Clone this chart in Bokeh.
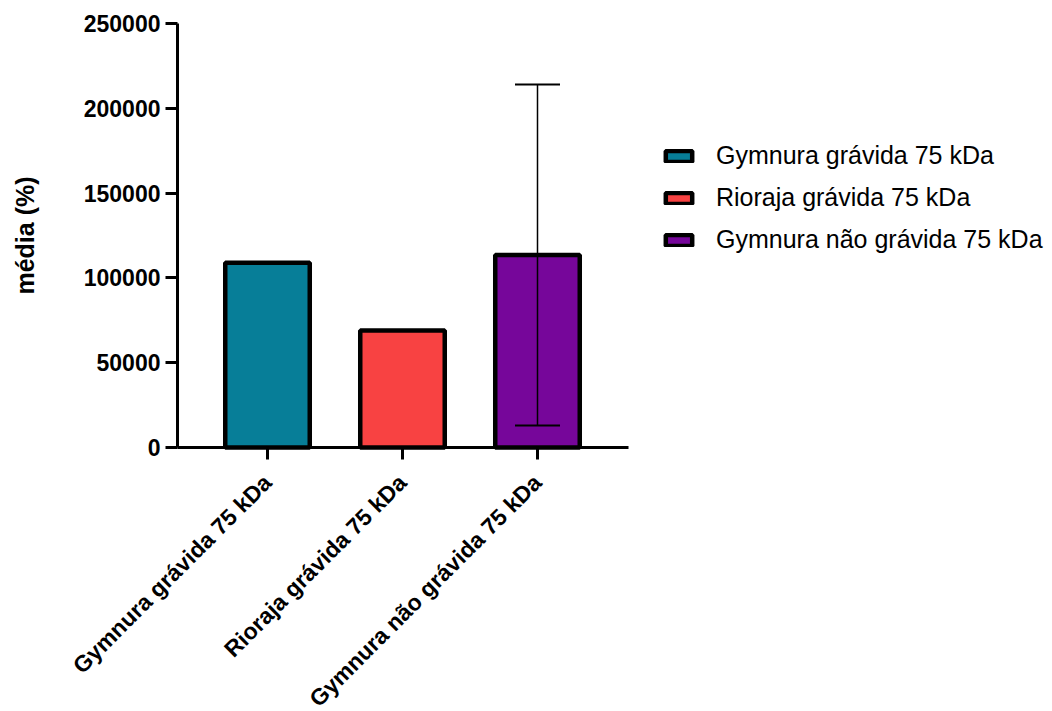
import math

from bokeh.core.properties import value
from bokeh.embed import file_html
from bokeh.models import (ColumnDataSource, FixedTicker, Label, LabelSet, Legend,
                          LegendItem, LinearAxis, Range1d, TeeHead, Whisker)
from bokeh.plotting import figure
from bokeh.resources import INLINE

# Group means and standard deviations (arbitrary units)
groups = ["Gymnura grávida 75 kDa", "Rioraja grávida 75 kDa", "Gymnura não grávida 75 kDa"]
means = [109000, 69000, 113500]
sds = [0, 0, 100500]
colors = ["#077E98", "#F84242", "#76069A"]
y_ticks = [0, 50000, 100000, 150000, 200000, 250000]
y_title = "média (%)"
y_max = 250000

positions = [i + 0.5 for i in range(len(groups))]

FONT_NAME = "Liberation Sans"
FONT = value(FONT_NAME)

# Layout in pixels: the frame fills the page so that the slanted group names,
# the value labels and the axis title can sit outside the axes uncut.
PX_PER_GROUP = 135
PX_PER_UNIT = 424 / y_max
frame_left, frame_top, frame_bottom, frame_right = 0, 10, 711, 1047
axis_x_px, zero_px, top_px = 177, 447, 23
first_center_px = 267

axis_x = 0.5 - (first_center_px - axis_x_px) / PX_PER_GROUP
x_start = axis_x - (axis_x_px - frame_left) / PX_PER_GROUP
x_end = x_start + (frame_right - frame_left) / PX_PER_GROUP
x_axis_end = axis_x + (628 - axis_x_px) / PX_PER_GROUP
y_start = -(frame_bottom - zero_px) / PX_PER_UNIT
y_end = y_max + (top_px - frame_top) / PX_PER_UNIT

p = figure(width=1052, height=711, output_backend="svg", toolbar_location=None,
           x_range=Range1d(x_start, x_end), y_range=Range1d(y_start, y_end),
           x_axis_location=None, y_axis_location=None,
           min_border_left=frame_left, min_border_top=frame_top,
           min_border_bottom=0, min_border_right=1052 - frame_right)
p.outline_line_color = None
p.xgrid.visible = False
p.ygrid.visible = False
p.background_fill_color = "white"
p.border_fill_color = "white"

src = ColumnDataSource(dict(x=positions, top=means, color=colors, label=groups,
                            base=[0] * len(groups)))
bars = p.vbar(x="x", top="top", bottom="base", width=0.626, source=src,
              fill_color="color", line_color="black", line_width=4.5)

# error bars only where a spread exists
ex = [x for x, s in zip(positions, sds) if s > 0]
eu = [m + s for m, s in zip(means, sds) if s > 0]
el = [m - s for m, s in zip(means, sds) if s > 0]
esrc = ColumnDataSource(dict(x=ex, upper=eu, lower=el))
whisk = Whisker(source=esrc, base="x", upper="upper", lower="lower",
                line_color="black", line_width=1.5,
                upper_head=TeeHead(size=45, line_width=2, line_color="black"),
                lower_head=TeeHead(size=45, line_width=2, line_color="black"),
                level="overlay")
p.add_layout(whisk)


def style_axis(ax):
    ax.axis_line_width = 3
    ax.axis_line_color = "black"
    ax.major_tick_line_width = 3
    ax.major_tick_line_color = "black"
    ax.minor_tick_line_color = None
    ax.major_label_text_font_size = "0px"
    ax.major_label_standoff = 0
    ax.major_tick_out = 0
    ax.major_tick_in = 12


# x axis pinned at zero, ticks pointing down, one tick per group
xa = LinearAxis(fixed_location=0)
xa.ticker = FixedTicker(ticks=positions)
xa.major_label_overrides = {x: "" for x in positions}
xa.bounds = (axis_x, x_axis_end)
style_axis(xa)
p.add_layout(xa, "above")

# y axis pinned at the left end of the x axis, ticks pointing left
ya = LinearAxis(fixed_location=axis_x)
ya.ticker = FixedTicker(ticks=y_ticks)
ya.major_label_overrides = {t: "" for t in y_ticks}
ya.bounds = (0, y_max)
style_axis(ya)
p.add_layout(ya, "right")

# value labels beside the y ticks
ysrc = ColumnDataSource(dict(x=[axis_x] * len(y_ticks), y=y_ticks,
                             text=[str(t) for t in y_ticks]))
p.add_layout(LabelSet(x="x", y="y", text="text", source=ysrc, x_offset=-17,
                      text_align="right", text_baseline="middle",
                      text_font=FONT, text_font_style="bold",
                      text_font_size="23px", text_color="black"))

# y axis title
p.add_layout(Label(x=axis_x, y=y_max / 2, x_offset=-153, text=y_title,
                   angle=math.pi / 2, text_align="center",
                   text_baseline="middle", text_font=FONT_NAME,
                   text_font_style="bold", text_font_size="25px",
                   text_color="black"))

# slanted group names under the ticks
p.add_layout(LabelSet(x="x", y="base", text="label", source=src,
                      angle=math.pi / 4, text_align="right",
                      text_baseline="middle", y_offset=-31, text_font=FONT,
                      text_font_style="bold", text_font_size="23px",
                      text_color="black"))

legend = Legend(items=[LegendItem(label=g, renderers=[bars], index=i)
                       for i, g in enumerate(groups)],
                location=(662 - frame_left, frame_bottom - 254))
legend.label_text_font = FONT_NAME
legend.label_text_font_size = "25px"
legend.label_text_color = "black"
legend.glyph_width = 33
legend.glyph_height = 14
legend.label_height = 28
legend.spacing = 13
legend.label_standoff = 21
legend.padding = 0
legend.margin = 0
legend.border_line_alpha = 0
legend.background_fill_alpha = 0
p.add_layout(legend)

open("out.html", "w").write(file_html(p, INLINE))
